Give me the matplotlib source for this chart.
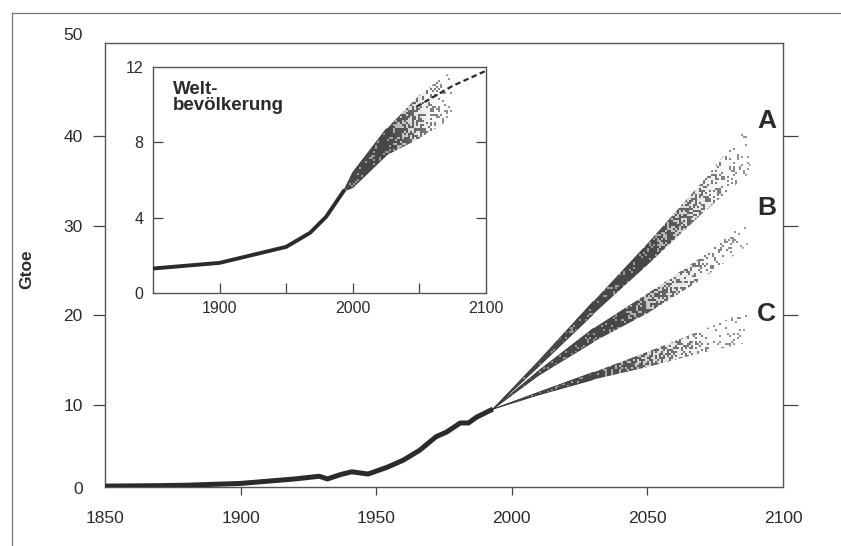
import numpy as np
import matplotlib
matplotlib.use("Agg")
import matplotlib.pyplot as plt
from matplotlib.lines import Line2D

plt.rcParams['font.family'] = ['Liberation Sans', 'DejaVu Sans']

# ---------------- data ----------------
energy_years = [1850, 1870, 1880, 1900, 1910, 1920, 1929, 1932, 1937, 1941, 1947, 1954,
                1960, 1966, 1972, 1976, 1981, 1984, 1987, 1991, 1993]
energy_gtoe = [0.9, 0.95, 1.0, 1.2, 1.45, 1.7, 2.0, 1.7, 2.2, 2.5, 2.25, 3.0,
               3.8, 4.9, 6.4, 6.95, 7.95, 7.95, 8.6, 9.2, 9.5]

fanA_years = [1993, 2010, 2030, 2050, 2070, 2088]
fanA_low = [9.5, 14.3, 20.1, 25.6, 31.3, 36.0]
fanA_high = [9.5, 14.9, 21.5, 28.0, 34.8, 41.5]

fanB_years = [1993, 2010, 2030, 2050, 2070, 2087]
fanB_low = [9.5, 13.3, 17.0, 20.2, 24.0, 27.8]
fanB_high = [9.5, 13.8, 18.5, 22.4, 26.5, 31.3]

fanC_years = [1993, 2010, 2030, 2050, 2070, 2088]
fanC_low = [9.5, 11.1, 12.8, 14.2, 15.8, 17.0]
fanC_high = [9.5, 11.4, 13.6, 15.9, 18.3, 20.6]

scenario_labels = ['A', 'B', 'C']
scenario_label_y = [41.7, 32.0, 20.1]

pop_years = [1850, 1900, 1950, 1968, 1980, 1993]
pop_billion = [1.3, 1.6, 2.45, 3.2, 4.05, 5.4]
popfan_years = [1993, 2000, 2025, 2050, 2068, 2076]
popfan_low = [5.4, 5.6, 7.3, 8.2, 9.0, 9.5]
popfan_high = [5.4, 6.4, 8.7, 10.5, 11.5, 11.8]
popdash_years = [2048, 2075, 2100]
popdash_values = [9.9, 11.0, 11.8]

main_xticks = [1850, 1900, 1950, 2000, 2050, 2100]
main_yticks = [10, 20, 30, 40]
inset_xticks = [1850, 1900, 1950, 2000, 2050, 2100]
inset_xticklabels = ['', '1900', '', '2000', '', '2100']
inset_yticks = [0, 4, 8, 12]

INK = '#2b2b2b'
FIG_W, FIG_H, DPI = 8.41, 5.46, 100


def textured_fan(ax, yrs, lo, hi, fade_start=0.5, core=0.85, across=0.6, cell=2.0, zorder=3):
    """Fill the band between lo and hi with a stipple texture fading to the right."""
    yrs = np.asarray(yrs, float)
    lo = np.asarray(lo, float)
    hi = np.asarray(hi, float)
    poly = ax.fill_between(yrs, lo, hi, facecolor='none', edgecolor='none', zorder=zorder)
    x0, x1 = yrs[0], yrs[-1]
    y0, y1 = lo.min(), hi.max()
    bb = ax.get_position()
    xl, yl = ax.get_xlim(), ax.get_ylim()
    pxx = bb.width * FIG_W * DPI / (xl[1] - xl[0])
    pxy = bb.height * FIG_H * DPI / (yl[1] - yl[0])
    nx = max(int(round((x1 - x0) * pxx / cell)), 10)
    ny = max(int(round((y1 - y0) * pxy / cell)), 10)
    X, Y = np.meshgrid(np.linspace(x0, x1, nx), np.linspace(y0, y1, ny))
    lo_i = np.interp(X, yrs, lo)
    hi_i = np.interp(X, yrs, hi)
    t = np.clip((Y - lo_i) / np.maximum(hi_i - lo_i, 1e-6), 0, 1)
    s = (X - x0) / (x1 - x0)
    fade = np.clip((s - fade_start) / (1 - fade_start), 0, 1)
    d = core * (1 - 0.9 * fade ** 0.9)
    d = d * (1 - across * t * fade)
    ii, jj = np.meshgrid(np.arange(nx), np.arange(ny))
    h = np.sin(ii * 12.9898 + jj * 78.233) * 43758.5453
    h = h - np.floor(h)
    mask = h < d
    rgba = np.zeros((ny, nx, 4))
    g = 0.28 + 0.32 * fade
    rgba[..., 0] = g
    rgba[..., 1] = g
    rgba[..., 2] = g
    rgba[..., 3] = np.where(mask, 1.0, 0.0)
    # soft grey underlay so the dense part reads as a continuous tone
    rgba[..., 3] = np.maximum(rgba[..., 3], 0.55 * (1 - fade) ** 2)
    im = ax.imshow(rgba, extent=[x0, x1, y0, y1], origin='lower', aspect='auto',
                   interpolation='nearest', zorder=zorder)
    im.set_clip_path(poly.get_paths()[0], transform=ax.transData)
    return im


fig = plt.figure(figsize=(FIG_W, FIG_H), dpi=DPI)

# frame lines of the scanned page
fig.add_artist(Line2D([12 / 841, 1.0], [1 - 13 / 546, 1 - 13 / 546], color='#777777', lw=0.9))
fig.add_artist(Line2D([12 / 841, 12 / 841], [1 - 13 / 546, 0.0], color='#777777', lw=0.9))

# ---------------- main axes ----------------
ax = fig.add_axes([105 / 841, 1 - 487 / 546, (783 - 105) / 841, (487 - 43) / 546])
ax.set_xlim(1850, 2100)
ax.set_ylim(0.8, 50.4)
for sp in ax.spines.values():
    sp.set_color('#555555')
    sp.set_linewidth(1.0)

ax.plot(energy_years, energy_gtoe, color=INK, lw=3.6, solid_capstyle='butt',
        solid_joinstyle='round', zorder=5)

fan_fade = [0.62, 0.5, 0.42]
for (yrs, lo, hi), fs in zip([(fanA_years, fanA_low, fanA_high),
                              (fanB_years, fanB_low, fanB_high),
                              (fanC_years, fanC_low, fanC_high)], fan_fade):
    textured_fan(ax, yrs, lo, hi, fade_start=fs, core=0.85, across=0.5)
    ax.plot(yrs[:3], lo[:3], color='#333333', lw=0.6, zorder=4)
    ax.plot(yrs[:3], hi[:3], color='#333333', lw=0.6, zorder=4)

ax.set_xlim(1850, 2100)
ax.set_ylim(0.8, 50.4)

for lab, yv in zip(scenario_labels, scenario_label_y):
    ax.text(2094, yv, lab, fontsize=19, fontweight='bold', ha='center', va='center', color=INK)

ax.set_xticks(main_xticks)
ax.set_xticklabels([str(v) for v in main_xticks])
ax.set_yticks(main_yticks)
ax.set_yticklabels([str(v) for v in main_yticks])
ax.tick_params(axis='x', direction='out', length=6, width=0.9, colors='#444444',
               labelcolor=INK, labelsize=12.5, pad=11)
ax.tick_params(axis='y', direction='out', length=9, width=0.9, colors='#444444',
               labelcolor=INK, labelsize=12.5, pad=7, left=True, right=True)
xt = ax.xaxis.get_major_ticks()
xt[0].tick1line.set_visible(False)
xt[-1].tick1line.set_visible(False)
for t in ax.yaxis.get_major_ticks():
    t.tick2line.set_markersize(11)

fig.text(83 / 841, 1 - 36 / 546, '50', fontsize=12.5, ha='right', va='center', color=INK)
fig.text(83 / 841, 1 - 490 / 546, '0', fontsize=12.5, ha='right', va='center', color=INK)
fig.text(27 / 841, 1 - 269 / 546, 'Gtoe', fontsize=12.5, fontweight='bold', rotation=90,
         ha='center', va='center', color=INK)

# ---------------- inset ----------------
ins = fig.add_axes([153 / 841, 1 - 293 / 546, (486 - 153) / 841, (293 - 67) / 546])
ins.set_xlim(1850, 2100)
ins.set_ylim(0, 12)
for sp in ins.spines.values():
    sp.set_color('#555555')
    sp.set_linewidth(1.0)

ins.plot(pop_years, pop_billion, color=INK, lw=2.8, zorder=5)
textured_fan(ins, popfan_years, popfan_low, popfan_high, fade_start=0.42, core=0.85, across=0.5)
ins.plot(popfan_years[:3], popfan_low[:3], color='#333333', lw=0.6, zorder=4)
ins.plot(popfan_years[:3], popfan_high[:3], color='#333333', lw=0.6, zorder=4)
ins.plot(popdash_years, popdash_values, color=INK, lw=1.6, ls=(0, (2.5, 1.5)), zorder=6)
ins.set_xlim(1850, 2100)
ins.set_ylim(0, 12)

ins.set_xticks(inset_xticks)
ins.set_xticklabels(inset_xticklabels)
ins.set_yticks(inset_yticks)
ins.set_yticklabels([str(v) for v in inset_yticks])
ins.tick_params(axis='both', direction='in', length=7, width=0.9, colors='#444444',
                labelcolor=INK, labelsize=11.5, left=True, right=True, bottom=True, top=False)
ins.tick_params(axis='y', pad=7)
ins.tick_params(axis='x', pad=6)
xi = ins.xaxis.get_major_ticks()
xi[0].tick1line.set_visible(False)
xi[-1].tick1line.set_visible(False)
yi = ins.yaxis.get_major_ticks()
for k in (0, -1):
    yi[k].tick1line.set_visible(False)
    yi[k].tick2line.set_visible(False)

ins.text(0.06, 0.94, 'Welt-\nbevölkerung', transform=ins.transAxes, fontsize=13.5,
         fontweight='bold', ha='left', va='top', color=INK, linespacing=0.95)

fig.savefig('out.png', dpi=DPI)
